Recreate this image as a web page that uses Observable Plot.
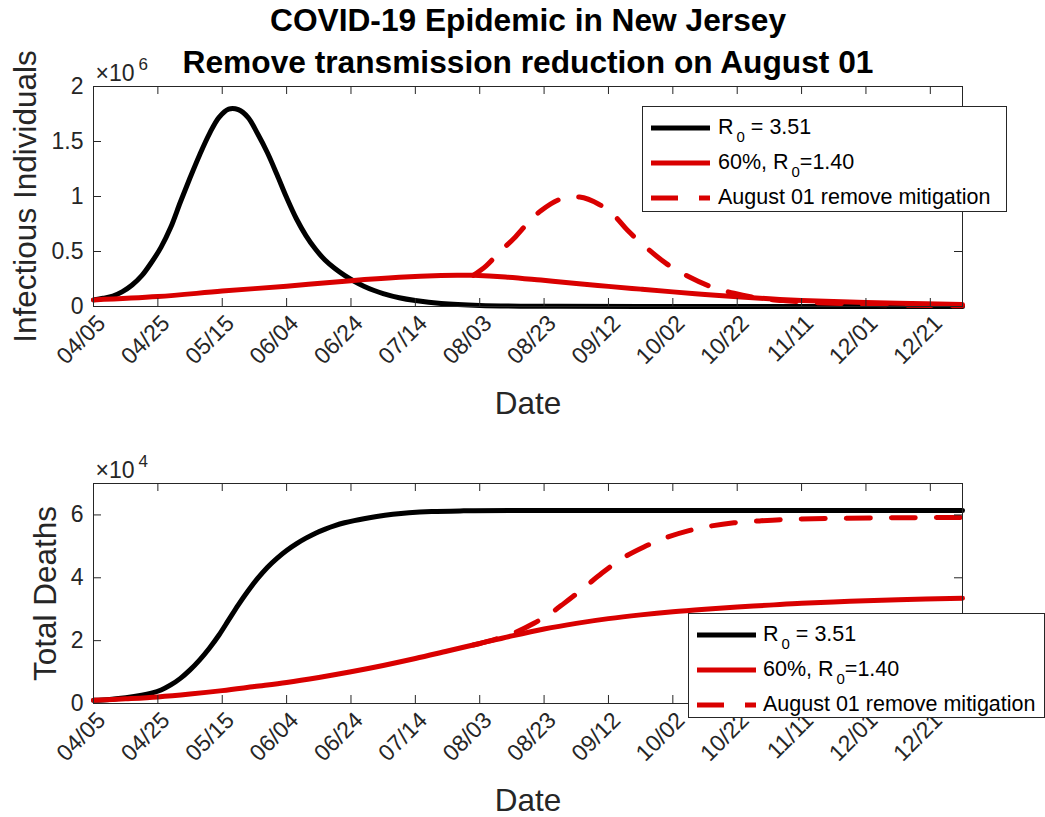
<!DOCTYPE html>
<html>
<head>
<meta charset="utf-8">
<script src="https://cdn.jsdelivr.net/npm/d3@7"></script>
<script src="https://cdn.jsdelivr.net/npm/@observablehq/plot@0.6"></script>
<style>
  body { margin: 0; background: #fff; font-family: "Liberation Sans", Arial, Helvetica, sans-serif; }
  #wrap { position: relative; width: 1045px; height: 817px; overflow: hidden; background: #fff; }
  #wrap > svg { position: absolute; left: 0; }
  .legend { position: absolute; background: #fff; border: 1px solid #262626; box-sizing: border-box; }
  .legend .row { position: absolute; left: 0; height: 0; }
  .legend .row svg { position: absolute; left: 8px; top: -10px; }
  .legend .row span.lbl { position: absolute; white-space: nowrap; font-size: 21.5px; color: #000; line-height: 1; top: -11px; }
  .legend sub { font-size: 15px; vertical-align: baseline; position: relative; top: 8px; margin-left: 3px; }
</style>
</head>
<body>
<div id="wrap"></div>
<script>
(function () {
// ---------------- data ----------------
const titleLines = ["COVID-19 Epidemic in New Jersey", "Remove transmission reduction on August 01"];
const tickLabels = ["04/05","04/25","05/15","06/04","06/24","07/14","08/03","08/23","09/12","10/02","10/22","11/11","12/01","12/21"];
const seriesNames = ["R0 = 3.51", "60%, R0=1.40", "August 01 remove mitigation"];
const legendHtml = ["R<sub>0</sub> = 3.51", "60%, R<sub>0</sub>=1.40", "August 01 remove mitigation"];

// days after 2020-04-05 ; infectious individuals in millions (x10^6)
const infBlackDay = [0,3,6,9,12,15,18,21,24,27,30,33,36,39,42,45,48,51,54,57,60,63,66,69,72,75,78,81,84,87,90,95,100,108,120,140,170,270];
const infBlackVal = [0.06,0.075,0.095,0.135,0.195,0.28,0.40,0.54,0.72,0.95,1.17,1.38,1.57,1.72,1.795,1.79,1.72,1.57,1.40,1.20,0.99,0.80,0.645,0.52,0.42,0.345,0.283,0.23,0.185,0.148,0.118,0.08,0.055,0.028,0.01,0.002,0.0005,0];

const infRedDay = [0,20,40,60,80,95,108,113,118,128,139,150,160,170,180,190,200,210,220,235,250,270];
const infRedVal = [0.06,0.09,0.14,0.185,0.235,0.265,0.282,0.285,0.283,0.268,0.24,0.21,0.183,0.158,0.133,0.11,0.088,0.07,0.055,0.04,0.029,0.018];

const infDashDay = [118,122,126,131,135,139,145,151,157,162,166,172,178,185,191,199,207,215,225,240,255,270];
const infDashVal = [0.283,0.37,0.49,0.63,0.76,0.87,0.975,0.995,0.93,0.82,0.69,0.53,0.39,0.27,0.19,0.12,0.075,0.052,0.035,0.02,0.011,0.006];

// total deaths in units of 10^4
const deathBlackDay = [0,5,10,15,18,21,24,27,30,33,36,39,42,45,48,51,54,57,60,63,66,69,72,75,78,81,84,88,93,98,105,115,130,270];
const deathBlackVal = [0.10,0.13,0.18,0.26,0.33,0.43,0.59,0.80,1.07,1.39,1.76,2.18,2.66,3.14,3.58,3.98,4.33,4.62,4.87,5.08,5.26,5.42,5.55,5.66,5.75,5.82,5.88,5.95,6.02,6.07,6.11,6.13,6.14,6.14];

const deathRedDay = [0,10,20,30,40,50,60,70,80,90,100,110,120,130,140,150,160,170,180,190,200,210,220,235,250,270];
const deathRedVal = [0.10,0.15,0.21,0.30,0.41,0.54,0.67,0.83,1.01,1.21,1.43,1.67,1.91,2.15,2.37,2.55,2.70,2.82,2.92,3.00,3.07,3.13,3.19,3.25,3.30,3.35];

const deathDashDay = [118,125,131,137,142,146,152,158,164,171,178,185,192,199,207,214,229,250,270];
const deathDashVal = [1.86,2.05,2.26,2.56,2.87,3.17,3.65,4.15,4.6,4.98,5.28,5.5,5.65,5.75,5.81,5.85,5.89,5.91,5.92];

// ---------------- helpers ----------------
const FONT = "'Liberation Sans', Arial, Helvetica, sans-serif";
const AX = "#262626";
const RED = "#d90000";
const DASH = "24,21";
const CURVE = "catmull-rom";
const t0 = Date.UTC(2020, 3, 5);
const toDate = d => new Date(t0 + d * 864e5);
const xDomain = [toDate(0), new Date(Date.UTC(2020, 11, 31))];
const tickDates = tickLabels.map(s => new Date(Date.UTC(2020, +s.slice(0, 2) - 1, +s.slice(3))));
const rows = (days, vals, name) => days.map((d, i) => ({date: toDate(d), value: vals[i], series: name}));

const W = 1045, ML = 93, MR = 83;

function panel({height, marginTop, marginBottom, yDomain, yTicks, ylabel, ylabelDx, exponent, data, extra = []}) {
  const fh = height - marginTop - marginBottom;
  const fw = W - ML - MR;
  const [black, red, dash] = data;
  return Plot.plot({
    width: W, height, marginTop, marginBottom, marginLeft: ML, marginRight: MR,
    style: {fontFamily: FONT, fontSize: "23px", color: AX, background: "transparent", overflow: "visible"},
    x: {type: "utc", domain: xDomain},
    y: {domain: yDomain},
    marks: [
      Plot.line(black, {x: "date", y: "value", stroke: "#000", strokeWidth: 5, curve: CURVE}),
      Plot.line(red, {x: "date", y: "value", stroke: RED, strokeWidth: 5, curve: CURVE}),
      Plot.line(dash, {x: "date", y: "value", stroke: RED, strokeWidth: 5, strokeDasharray: DASH, curve: CURVE}),
      Plot.frame({stroke: AX, strokeWidth: 1}),
      Plot.tickX(tickDates, {x: d => d, stroke: AX, insetTop: fh - 8}),
      Plot.tickX(tickDates, {x: d => d, stroke: AX, insetBottom: fh - 8}),
      Plot.tickY(yTicks, {y: d => d, stroke: AX, insetRight: fw - 8}),
      Plot.tickY(yTicks, {y: d => d, stroke: AX, insetLeft: fw - 8}),
      Plot.axisX(tickDates, {tickSize: 0, tickPadding: 10, tickRotate: -45, textAnchor: "end", dx: 8, dy: 3, tickFormat: d3.utcFormat("%m/%d"), label: null, fontSize: 23, fill: AX}),
      Plot.axisY(yTicks, {tickSize: 0, tickPadding: 10, tickFormat: d => String(d), label: null, fontSize: 23, fill: AX}),
      Plot.text([ylabel], {frameAnchor: "left", textAnchor: "middle", lineAnchor: "middle", rotate: -90, dx: ylabelDx, fontSize: 31.5, fill: AX}),
      Plot.text(["Date"], {frameAnchor: "bottom", lineAnchor: "middle", dy: 97, fontSize: 31.5, fill: AX}),
      Plot.text(["×10"], {frameAnchor: "top-left", textAnchor: "start", lineAnchor: "middle", dx: 2, dy: -13, fontSize: 23, fill: AX}),
      Plot.text([exponent], {frameAnchor: "top-left", textAnchor: "start", lineAnchor: "middle", dx: 45, dy: -22, fontSize: 17, fill: AX}),
      ...extra
    ]
  });
}

const wrap = document.getElementById("wrap");

const topPanel = panel({
  height: 430, marginTop: 86, marginBottom: 124,
  yDomain: [0, 2], yTicks: [0, 0.5, 1, 1.5, 2],
  ylabel: "Infectious Individuals", ylabelDx: -68, exponent: "6",
  data: [rows(infBlackDay, infBlackVal, seriesNames[0]), rows(infRedDay, infRedVal, seriesNames[1]), rows(infDashDay, infDashVal, seriesNames[2])],
  extra: [
    Plot.text([titleLines[0]], {frameAnchor: "top", lineAnchor: "middle", dy: -66, fontSize: 31.7, fontWeight: "bold", fill: "#000"}),
    Plot.text([titleLines[1]], {frameAnchor: "top", lineAnchor: "middle", dy: -24, fontSize: 31.7, fontWeight: "bold", fill: "#000"})
  ]
});
topPanel.style.top = "0px";
wrap.appendChild(topPanel);

const bottomPanel = panel({
  height: 387, marginTop: 53, marginBottom: 114,
  yDomain: [0, 7], yTicks: [0, 2, 4, 6],
  ylabel: "Total Deaths", ylabelDx: -48, exponent: "4",
  data: [rows(deathBlackDay, deathBlackVal, seriesNames[0]), rows(deathRedDay, deathRedVal, seriesNames[1]), rows(deathDashDay, deathDashVal, seriesNames[2])]
});
bottomPanel.style.top = "430px";
wrap.appendChild(bottomPanel);

// ---------------- legends ----------------
const legendStyles = [{stroke: "#000"}, {stroke: RED}, {stroke: RED, dash: DASH}];
function legend(left, topPx, width, height, textLeft) {
  const box = document.createElement("div");
  box.className = "legend";
  Object.assign(box.style, {left: left + "px", top: topPx + "px", width: width + "px", height: height + "px"});
  legendHtml.forEach((html, i) => {
    const row = document.createElement("div");
    row.className = "row";
    row.style.top = (21 + 35 * i) + "px";
    const st = legendStyles[i];
    row.innerHTML = `<svg width="60" height="20"><line x1="0" x2="59" y1="10" y2="10" stroke="${st.stroke}" stroke-width="5" ${st.dash ? `stroke-dasharray="27,21"` : ""}/></svg><span class="lbl" style="left:${textLeft}px">${html}</span>`;
    box.appendChild(row);
  });
  wrap.appendChild(box);
}
legend(642, 106, 365, 106, 75);
legend(688, 613, 357, 105, 74);
})();
</script>
</body>
</html>
